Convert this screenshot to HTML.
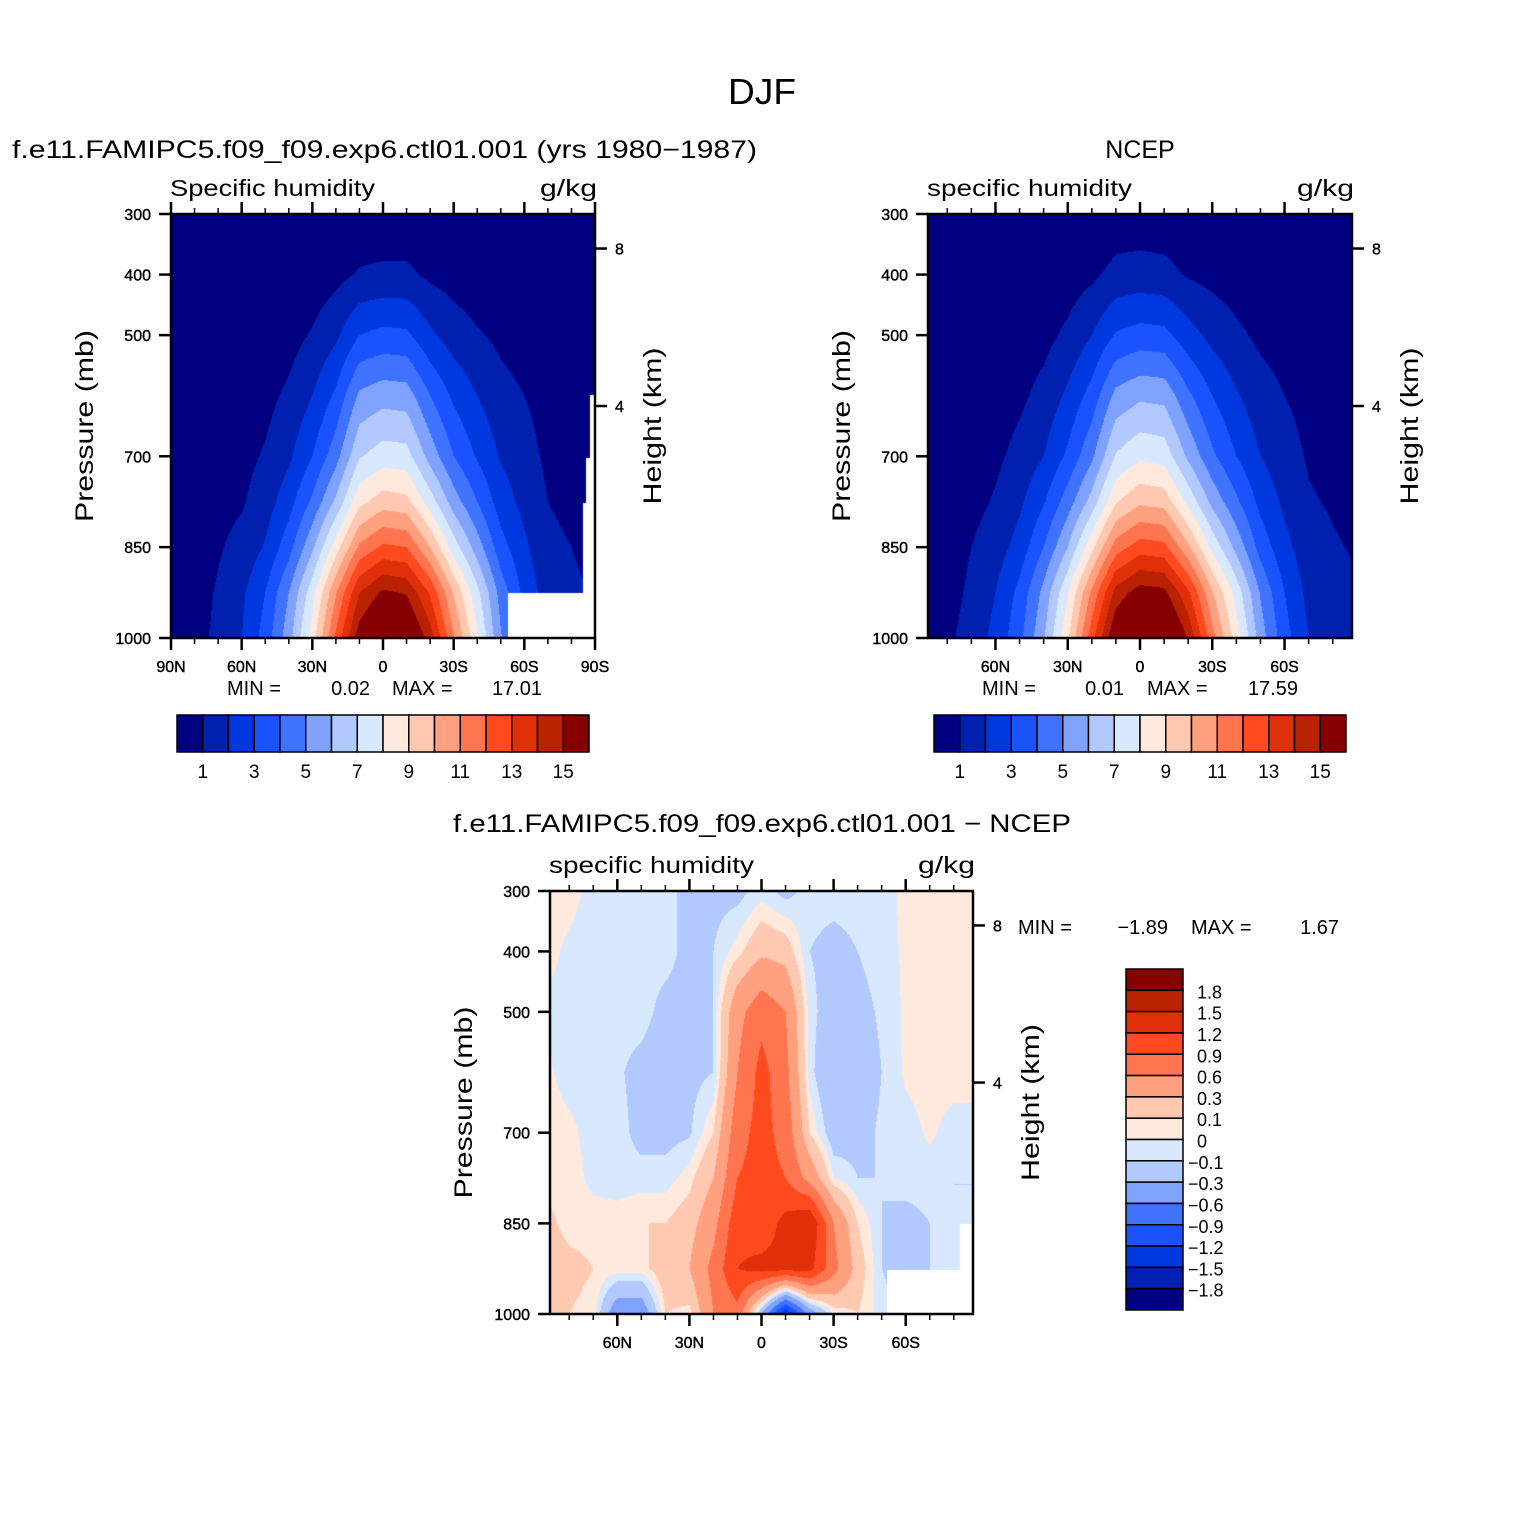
<!DOCTYPE html>
<html><head><meta charset="utf-8"><style>
body{margin:0;background:#fff;}
#page{position:relative;width:1524px;height:1524px;background:#fff;overflow:hidden;font-family:"Liberation Sans",sans-serif;}
canvas{position:absolute;}
svg{position:absolute;left:0;top:0;}
</style></head><body>
<div id="page">
<canvas id="c1"></canvas>
<canvas id="c2"></canvas>
<canvas id="c3"></canvas>
<svg id="ov" width="1524" height="1524"></svg>
</div>
<script>
// ---- data ----
const lats = [90,80,70,60,50,40,30,20,10,0,-10,-20,-30,-40,-50,-60,-70,-80,-90];
const pressures = [300,400,500,600,700,775,850,925,1000];
// rows per latitude (90N..90S), values per pressure level
const modelQ = [
[0,0,0.1,0.1,0.2,0.2,0.2,0.3,0.3],
[0,0,0.1,0.2,0.3,0.4,0.5,0.6,0.7],
[0,0.1,0.2,0.3,0.5,0.7,0.9,1.1,1.2],
[0,0.1,0.2,0.4,0.7,0.9,1.3,1.8,2.0],
[0,0.1,0.4,0.7,1.1,1.5,2.1,3.0,3.4],
[0.1,0.2,0.6,1.2,1.8,2.6,3.6,5.0,5.6],
[0.1,0.4,1.1,2.0,3.0,4.2,5.8,7.6,8.5],
[0.2,0.7,1.8,3.2,4.6,6.2,8.5,10.9,12.2],
[0.3,1.1,3.0,5.2,6.9,8.7,11.2,14.0,15.6],
[0.3,1.2,3.3,5.6,7.5,9.5,12.2,15.2,17.0],
[0.3,1.2,3.2,5.5,7.4,9.3,12.0,14.9,16.7],
[0.2,0.8,2.2,4.0,5.6,7.5,10.0,12.9,14.5],
[0.2,0.6,1.5,2.8,4.0,5.5,7.5,9.9,11.1],
[0.1,0.4,1.1,2.0,2.9,4.0,5.5,7.3,8.2],
[0.1,0.3,0.8,1.3,1.9,2.5,3.4,4.6,5.1],
[0.1,0.2,0.6,1.0,1.4,1.7,2.2,2.7,3.1],
[0,0.1,0.3,0.6,0.8,1.0,1.2,1.5,1.7],
[0,0.1,0.3,0.4,0.6,0.8,1.0,1.2,1.4],
[0,0.1,0.2,0.3,0.5,0.6,0.7,0.9,1.0]];
const ncepQ = [
[0,0,0.1,0.1,0.2,0.2,0.3,0.3,0.4],
[0,0,0.1,0.2,0.3,0.4,0.5,0.6,0.8],
[0,0.1,0.2,0.3,0.5,0.7,1.0,1.2,1.4],
[0,0.1,0.3,0.5,0.8,1.1,1.5,2.0,2.3],
[0.1,0.2,0.5,0.8,1.3,1.8,2.4,3.3,3.7],
[0.1,0.3,0.7,1.3,2.0,2.9,4.0,5.3,5.9],
[0.1,0.5,1.2,2.2,3.2,4.5,6.0,7.9,8.8],
[0.2,0.8,2.0,3.4,4.8,6.4,8.7,11.2,12.6],
[0.4,1.3,3.1,5.3,7.1,8.9,11.5,14.4,16.1],
[0.4,1.4,3.4,5.8,7.8,9.8,12.5,15.5,17.5],
[0.4,1.3,3.3,5.7,7.6,9.6,12.3,15.3,17.2],
[0.3,0.9,2.4,4.2,5.8,7.7,10.2,13.2,14.9],
[0.2,0.7,1.7,3.0,4.2,5.7,7.7,10.1,11.4],
[0.1,0.5,1.2,2.1,3.0,4.2,5.7,7.6,8.5],
[0.1,0.3,0.8,1.4,2.0,2.7,3.6,4.9,5.5],
[0.1,0.2,0.6,1.0,1.4,1.8,2.3,3.0,3.4],
[0,0.2,0.4,0.7,0.9,1.1,1.4,1.7,2.0],
[0,0.1,0.3,0.5,0.7,0.9,1.1,1.3,1.6],
[0,0.1,0.2,0.4,0.6,0.7,0.9,1.1,1.3]];
const diffQ = [
[0.05,0.05,-0.03,0.03,0.05,0.05,0.15,0.2,0.1],
[0.05,-0.03,-0.05,-0.05,0.03,0.05,0.05,0.15,0.1],
[-0.05,-0.05,-0.05,-0.05,-0.05,-0.03,0.05,0.1,0.05],
[-0.05,-0.05,-0.05,-0.08,-0.05,-0.05,0.05,0.05,-0.5],
[-0.05,-0.05,-0.05,-0.15,-0.15,-0.05,0.1,0.05,-0.5],
[-0.05,-0.05,-0.15,-0.2,-0.15,-0.05,0.1,0.2,0.1],
[-0.15,-0.15,-0.15,-0.15,-0.12,0.05,0.2,0.3,0.05],
[-0.15,-0.1,-0.1,-0.1,0.1,0.3,0.5,0.7,0.6],
[-0.15,0.05,0.5,0.6,0.8,0.9,1.1,1.2,0.8],
[-0.05,0.25,0.8,1.0,1.0,1.0,1.0,1.3,-0.3],
[-0.15,0.2,0.6,0.7,0.8,0.9,1.3,1.3,-1.5],
[-0.05,-0.1,-0.05,-0.05,0.1,0.5,1.5,1.3,-0.5],
[-0.05,-0.15,-0.2,-0.3,-0.2,0.0,0.6,0.7,0.0],
[-0.05,-0.1,-0.15,-0.2,-0.15,-0.1,0.1,0.2,0.1],
[-0.05,-0.05,-0.08,-0.1,-0.08,-0.1,-0.1,-0.1,-0.05],
[0.03,0.02,0.02,0.02,-0.05,-0.05,-0.15,-0.15,-0.2],
[0.05,0.05,0.05,0.05,0.02,-0.05,-0.1,-0.1,-0.1],
[0.05,0.05,0.05,0.05,-0.05,-0.1,-0.1,-0.1,-0.1],
[0.05,0.05,0.05,0.05,-0.05,-0.1,-0.1,-0.1,-0.1]];
const qLevels = [1,2,3,4,5,6,7,8,9,10,11,12,13,14,15];
const dLevels = [-1.8,-1.5,-1.2,-0.9,-0.6,-0.3,-0.1,0,0.1,0.3,0.6,0.9,1.2,1.5,1.8];
const qLabels = ["1","3","5","7","9","11","13","15"];
const dLabels = ["1.8","1.5","1.2","0.9","0.6","0.3","0.1","0","\u22120.1","\u22120.3","\u22120.6","\u22120.9","\u22121.2","\u22121.5","\u22121.8"];
const colors = ["#000080","#0020b0","#0038e0","#1a52ff","#3f73ff","#80a2ff","#b1c9ff","#d8e9ff","#ffe9dc","#ffc8b0","#ffa17f","#ff7550","#ff4a1f","#e0300a","#b82200","#870000"];
const pTicks = [300,400,500,700,850,1000];
const latTicks = [90,60,30,0,-30,-60,-90];
const latTickLabels = ["90N","60N","30N","0","30S","60S","90S"];

// ---- helpers ----
const NS="http://www.w3.org/2000/svg";
const ov=document.getElementById('ov');
function el(tag,attrs,parent){const e=document.createElementNS(NS,tag);for(const k in attrs)e.setAttribute(k,attrs[k]);(parent||ov).appendChild(e);return e;}
function txt(x,y,s,size,anchor,name,extra){const t=el('text',Object.assign({x:x,y:y,'font-size':size,'text-anchor':anchor||'start','font-family':'Liberation Sans, sans-serif',fill:'#000'},extra||{}));t.textContent=s;


return t;}
function hexRGB(h){return [parseInt(h.substr(1,2),16),parseInt(h.substr(3,2),16),parseInt(h.substr(5,2),16)];}
const rgb=colors.map(hexRGB);
function sample(grid,lat,p){
  let fi=(90-lat)/10; fi=Math.max(0,Math.min(lats.length-1.0001,fi));
  const i=Math.floor(fi), a=fi-i;
  let k=0; while(k<pressures.length-2 && p>pressures[k+1])k++;
  let b=(p-pressures[k])/(pressures[k+1]-pressures[k]); b=Math.max(0,Math.min(1,b));
  const v00=grid[i][k],v01=grid[i][k+1],v10=grid[i+1][k],v11=grid[i+1][k+1];
  return (v00*(1-b)+v01*b)*(1-a)+(v10*(1-b)+v11*b)*a;
}
function band(v,levels){let n=0;for(const l of levels){if(v>=l)n++;}return n;}
const tick={'stroke':'#000','stroke-width':0.4};

function panel(cfg){
  const {id,x0,y0,w,h,latMax,grid,levels}=cfg;
  const xs=lat=>x0+(latMax-lat)/(2*latMax)*w;
  const ys=p=>y0+(p-300)/700*h;
  const cv=document.getElementById(id);
  cv.width=w;cv.height=h;cv.style.left=x0+'px';cv.style.top=y0+'px';
  const ctx=cv.getContext('2d');const img=ctx.createImageData(w,h);
  for(let py=0;py<h;py++){const p=300+(py+0.5)/h*700;
    for(let px=0;px<w;px++){const lat=latMax-(px+0.5)/w*2*latMax;
      const c=rgb[band(sample(grid,lat,p),levels)];const o=(py*w+px)*4;
      img.data[o]=c[0];img.data[o+1]=c[1];img.data[o+2]=c[2];img.data[o+3]=255;}}
  ctx.putImageData(img,0,0);
  ctx.fillStyle='#fff';
  (cfg.missing||[]).forEach(r=>ctx.fillRect(r[0]-x0,r[1]-y0,r[2],r[3]));
  const g=el('g',{});
  
  
  el('rect',{x:x0,y:y0,width:w,height:h,fill:'none',stroke:'#000','stroke-width':2.5},g);
  for(let L=-90;L<=90;L+=10){ if(Math.abs(L)>latMax)continue;
    const x=xs(L),maj=(L%30===0),len=maj?12:6;
    el('line',{x1:x,y1:y0,x2:x,y2:y0-len,stroke:'#000','stroke-width':maj?2.5:1.5},g);
    el('line',{x1:x,y1:y0+h,x2:x,y2:y0+h+len,stroke:'#000','stroke-width':maj?2.5:1.5},g);}
  latTicks.forEach((L,i)=>{ if(Math.abs(L)>latMax)return;
    txt(xs(L),y0+h+34,latTickLabels[i],16,'middle','x-tick-label',tick);});
  pTicks.forEach(p=>{const y=ys(p);
    el('line',{x1:x0,y1:y,x2:x0-12,y2:y,stroke:'#000','stroke-width':2.5},g);
    txt(x0-20,y+6,String(p),16,'end','y-tick-label',tick);});
  [[8,357],[4,617]].forEach(d=>{const y=ys(d[1]);
    el('line',{x1:x0+w,y1:y,x2:x0+w+12,y2:y,stroke:'#000','stroke-width':2.5},g);
    txt(x0+w+20,y+6,String(d[0]),16,'start','height-tick-label',tick);});
  txt(x0-1,y0-18,cfg.sub,23,'start','panel-variable-name',{textLength:205,lengthAdjust:'spacingAndGlyphs'});
  txt(x0+w+2,y0-18,'g/kg',23,'end','panel-units',{textLength:57,lengthAdjust:'spacingAndGlyphs'});
  txt(x0-78,y0+h/2,'Pressure (mb)',25,'middle','y-axis-title',{transform:`rotate(-90 ${x0-78} ${y0+h/2})`,textLength:192,lengthAdjust:'spacingAndGlyphs'});
  txt(x0+w+66,y0+h/2,'Height (km)',25,'middle','right-axis-title',{transform:`rotate(-90 ${x0+w+66} ${y0+h/2})`,textLength:157,lengthAdjust:'spacingAndGlyphs'});
}
function hbar(x0,y0,w,h,name){
  const n=colors.length,bw=w/n;const g=el('g',{});
  
  
  colors.forEach((c,i)=>el('rect',{x:x0+i*bw,y:y0,width:bw,height:h,fill:c,stroke:'#000','stroke-width':1.5},g));
  qLabels.forEach((s,i)=>txt(x0+(1+2*i)*bw,y0+h+26,s,19,'middle','colorbar-label'));
}
function vbar(x0,y0,w,h,name){
  const n=colors.length,bh=h/n;const g=el('g',{});
  
  
  colors.slice().reverse().forEach((c,i)=>el('rect',{x:x0,y:y0+i*bh,width:w,height:bh,fill:c,stroke:'#000','stroke-width':1.5},g));
  dLabels.forEach((s,i)=>txt(x0+w+(s.startsWith('\u2212')?5:14),y0+(i+1)*bh+8,s,18,'start','colorbar-label'));
}

txt(762,104,'DJF',36,'middle','figure-title',{textLength:68,lengthAdjust:'spacingAndGlyphs'});
txt(12,158,'f.e11.FAMIPC5.f09_f09.exp6.ctl01.001 (yrs 1980\u22121987)',25,'start','model-panel-title',{textLength:745,lengthAdjust:'spacingAndGlyphs'});
txt(1140,158,'NCEP',25,'middle','ncep-panel-title');
txt(453,832,'f.e11.FAMIPC5.f09_f09.exp6.ctl01.001 \u2212 NCEP',25,'start','difference-panel-title',{textLength:618,lengthAdjust:'spacingAndGlyphs'});

panel({id:'c1',name:'model',x0:171,y0:214,w:424,h:424,latMax:90,grid:modelQ,levels:qLevels,sub:'Specific humidity',
  missing:[[508,593,80,45],[590,395,5,243],[586,458,9,180],[583,503,12,135]]});
panel({id:'c2',name:'ncep',x0:928,y0:214,w:424,h:424,latMax:88,grid:ncepQ,levels:qLevels,sub:'specific humidity'});
panel({id:'c3',name:'difference',x0:550,y0:891,w:423,h:423,latMax:88,grid:diffQ,levels:dLevels,sub:'specific humidity',
  missing:[[887,1270,86,44],[960,1224,13,90]]});

txt(227,695,'MIN =',20,'start','model-min-label');txt(370,695,'0.02',20,'end','model-min-value');
txt(392,695,'MAX =',20,'start','model-max-label');txt(542,695,'17.01',20,'end','model-max-value');
txt(982,695,'MIN =',20,'start','ncep-min-label');txt(1124,695,'0.01',20,'end','ncep-min-value');
txt(1147,695,'MAX =',20,'start','ncep-max-label');txt(1298,695,'17.59',20,'end','ncep-max-value');
txt(1018,934,'MIN =',20,'start','diff-min-label');txt(1168,934,'\u22121.89',20,'end','diff-min-value');
txt(1191,934,'MAX =',20,'start','diff-max-label');txt(1339,934,'1.67',20,'end','diff-max-value');

hbar(177,715,412,37,'model-colorbar');
hbar(934,715,412,37,'ncep-colorbar');
vbar(1126,969,57,341,'difference-colorbar');
</script>
</body></html>
